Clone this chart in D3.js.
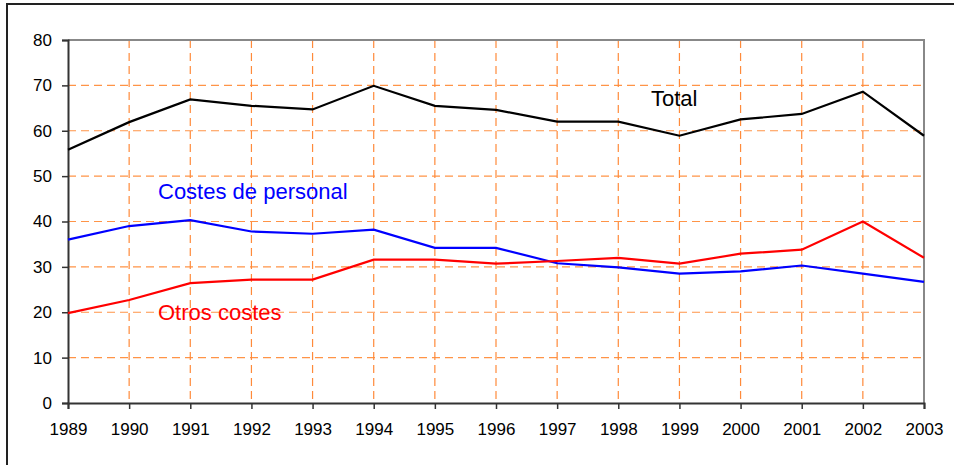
<!DOCTYPE html>
<html>
<head>
<meta charset="utf-8">
<script src="https://cdn.jsdelivr.net/npm/d3@7"></script>
<style>
  body { margin: 0; background: #fff; }
  text { font-family: "Liberation Sans", Arial, sans-serif; }
</style>
</head>
<body>
<div id="chart"></div>
<script>
// values
const years = [1989, 1990, 1991, 1992, 1993, 1994, 1995, 1996, 1997, 1998, 1999, 2000, 2001, 2002, 2003];
const total = [55.8, 61.9, 66.9, 65.5, 64.7, 69.9, 65.5, 64.6, 62.0, 62.0, 58.9, 62.5, 63.7, 68.6, 58.9];
const costesPersonal = [36.0, 39.0, 40.3, 37.8, 37.3, 38.2, 34.2, 34.2, 30.8, 29.9, 28.5, 29.0, 30.3, 28.5, 26.7];
const otrosCostes = [19.8, 22.7, 26.4, 27.2, 27.2, 31.6, 31.6, 30.7, 31.3, 32.0, 30.7, 32.9, 33.8, 40.0, 32.0];
const yTicks = [0, 10, 20, 30, 40, 50, 60, 70, 80];

const width = 954, height = 465;
const margin = {top: 40, right: 30, bottom: 62, left: 68};

let svg = d3.select("#chart").append("svg")
    .attr("width", width)
    .attr("height", height);

// outer frame (runs off the right and bottom)
svg.append("rect")
    .attr("x", 7).attr("y", 4)
    .attr("width", 1000).attr("height", 1000)
    .attr("fill", "none")
    .attr("stroke", "#222")
    .attr("stroke-width", 2);

let x = d3.scaleLinear()
    .domain([years[0], years[years.length - 1]])
    .range([margin.left, width - margin.right]);
let y = d3.scaleLinear()
    .domain([0, 80])
    .range([height - margin.bottom, margin.top]);

// grid
let grid = svg.append("g");
grid.selectAll("line.h")
    .data(yTicks.filter(d => d > 0 && d < 80))
    .enter().append("line")
    .attr("x1", x.range()[0]).attr("x2", x.range()[1])
    .attr("y1", d => y(d)).attr("y2", d => y(d))
    .attr("stroke", "#ff9447")
    .attr("stroke-width", 1.2)
    .attr("stroke-dasharray", "8,5");
grid.selectAll("line.v")
    .data(years.slice(1, -1))
    .enter().append("line")
    .attr("x1", d => x(d)).attr("x2", d => x(d))
    .attr("y1", y(80)).attr("y2", y(0))
    .attr("stroke", "#ff8a3a")
    .attr("stroke-width", 1.2)
    .attr("stroke-dasharray", "8,5");

// plot frame top/right in gray
svg.append("path")
    .attr("d", `M${x.range()[0]},${y(80)}H${x.range()[1]}V${y(0)}`)
    .attr("fill", "none")
    .attr("stroke", "#888")
    .attr("stroke-width", 2);

// axes
let yAxis = svg.append("g")
    .attr("transform", `translate(${x.range()[0]},0)`)
    .call(d3.axisLeft(y).tickValues(yTicks).tickSize(6).tickPadding(10).tickFormat(d3.format("d")));
let xAxis = svg.append("g")
    .attr("transform", `translate(0,${y(0)})`)
    .call(d3.axisBottom(x).tickValues(years).tickSize(6).tickPadding(14).tickFormat(d3.format("d")));

yAxis.selectAll("text").attr("font-size", "17px").attr("fill", "#000");
xAxis.selectAll("text").attr("font-size", "17px").attr("fill", "#000");
[yAxis, xAxis].forEach(a => {
    a.select(".domain").attr("stroke", "#333").attr("stroke-width", 2);
    a.selectAll(".tick line").attr("stroke", "#333").attr("stroke-width", 1.5);
    a.attr("font-family", null);
});

// series
let series = [
    {name: "Total", values: total, color: "#000000", lx: 651, ly: 106},
    {name: "Costes de personal", values: costesPersonal, color: "#0000ff", lx: 158, ly: 199},
    {name: "Otros costes", values: otrosCostes, color: "#ff0000", lx: 158, ly: 320}
];

let line = d3.line()
    .x((d, i) => x(years[i]))
    .y(d => y(d));

series.forEach(s => {
    svg.append("path")
        .datum(s.values)
        .attr("d", line)
        .attr("fill", "none")
        .attr("stroke", s.color)
        .attr("stroke-width", 2.2);
    svg.append("text")
        .attr("x", s.lx)
        .attr("y", s.ly)
        .attr("fill", s.color)
        .attr("font-size", "22px")
        .text(s.name);
});
</script>
</body>
</html>
